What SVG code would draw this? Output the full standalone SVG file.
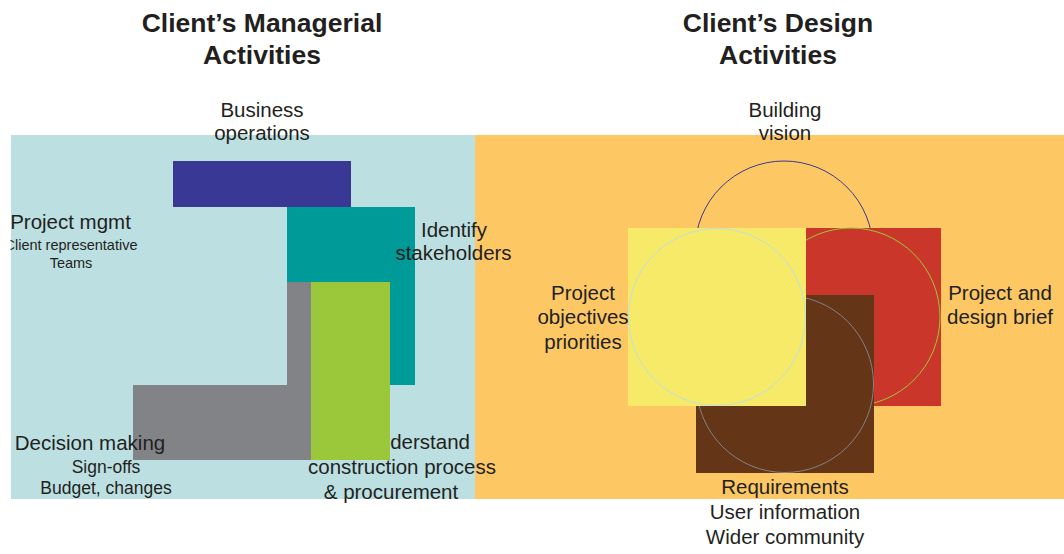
<svg xmlns="http://www.w3.org/2000/svg" width="1064" height="554" viewBox="0 0 1064 554">
<defs>
<style>
text{font-family:"Liberation Sans",Arial,sans-serif;fill:#231F20;text-anchor:middle}
.title{font-size:26.5px;font-weight:bold}
.lbl{font-size:20.5px}
.sub{font-size:17.5px}
.sm{font-size:14.5px}
.ring{fill:none;stroke-width:1}
</style>
<clipPath id="leftclip"><rect x="10.5" y="0" width="600" height="554"/></clipPath>
</defs>
<rect width="1064" height="554" fill="#FFFFFF"/>
<g id="titles">
<text class="title" x="262" y="32">Client’s Managerial</text>
<text class="title" x="262" y="64">Activities</text>
<text class="title" x="778" y="32">Client’s Design</text>
<text class="title" x="778" y="64">Activities</text>
</g>
<g id="managerial-panel">
<rect x="11" y="135" width="464" height="364" fill="#BCDFE2"/>
</g>
<g id="design-panel">
<rect x="475" y="135" width="589" height="364" fill="#FDC864"/>
</g>
<g id="business-operations">
<rect x="173" y="161" width="178" height="46" fill="#393894"/>
<text class="lbl" x="262" y="117">Business</text>
<text class="lbl" x="262" y="140">operations</text>
</g>
<g id="identify-stakeholders">
<rect x="287" y="207" width="128" height="178" fill="#009A99"/>
</g>
<g id="decision-making">
<path d="M287 282H311V460H133V385H287Z" fill="#828387"/>
<text class="lbl" x="90" y="450">Decision making</text>
<text class="sub" x="106" y="473">Sign-offs</text>
<text class="sub" x="106" y="494">Budget, changes</text>
</g>
<g id="project-mgmt">
<text class="lbl" x="70.5" y="229">Project mgmt</text>
<text class="sm" x="71" y="250" clip-path="url(#leftclip)">Client representative</text>
<text class="sm" x="71" y="268">Teams</text>
</g>
<g id="identify-label">
<text class="lbl" x="454" y="237">Identify</text>
<text class="lbl" x="453.5" y="260">stakeholders</text>
</g>
<g id="understand-construction">
<text class="lbl" x="417" y="449">Understand</text>
<rect x="311" y="282" width="79" height="178" fill="#9BC83B"/>
<text class="lbl" x="402" y="474">construction process</text>
<text class="lbl" x="391" y="499">&amp; procurement</text>
</g>
<g id="building-vision">
<circle class="ring" cx="784" cy="250" r="89" stroke="#393894"/>
<text class="lbl" x="785" y="117">Building</text>
<text class="lbl" x="785" y="140">vision</text>
</g>
<g id="project-design-brief">
<rect x="806" y="228" width="135" height="178" fill="#CA3629"/>
<circle class="ring" cx="851" cy="317" r="89" stroke="#9BC83B"/>
<text class="lbl" x="1000" y="300">Project and</text>
<text class="lbl" x="1000" y="324">design brief</text>
</g>
<g id="requirements">
<rect x="696" y="295" width="178" height="178" fill="#643516"/>
<circle class="ring" cx="785" cy="384" r="88.5" stroke="#828387"/>
<text class="lbl" x="785" y="494">Requirements</text>
<text class="lbl" x="785" y="519">User information</text>
<text class="lbl" x="785" y="544">Wider community</text>
</g>
<g id="project-objectives">
<rect x="628" y="228" width="178" height="178" fill="#F7EA69"/>
<circle class="ring" cx="717" cy="317" r="88.5" stroke="#BCDFE2"/>
<text class="lbl" x="583" y="300">Project</text>
<text class="lbl" x="583" y="324">objectives</text>
<text class="lbl" x="583" y="349">priorities</text>
</g>
<g id="connectors"></g>
</svg>
